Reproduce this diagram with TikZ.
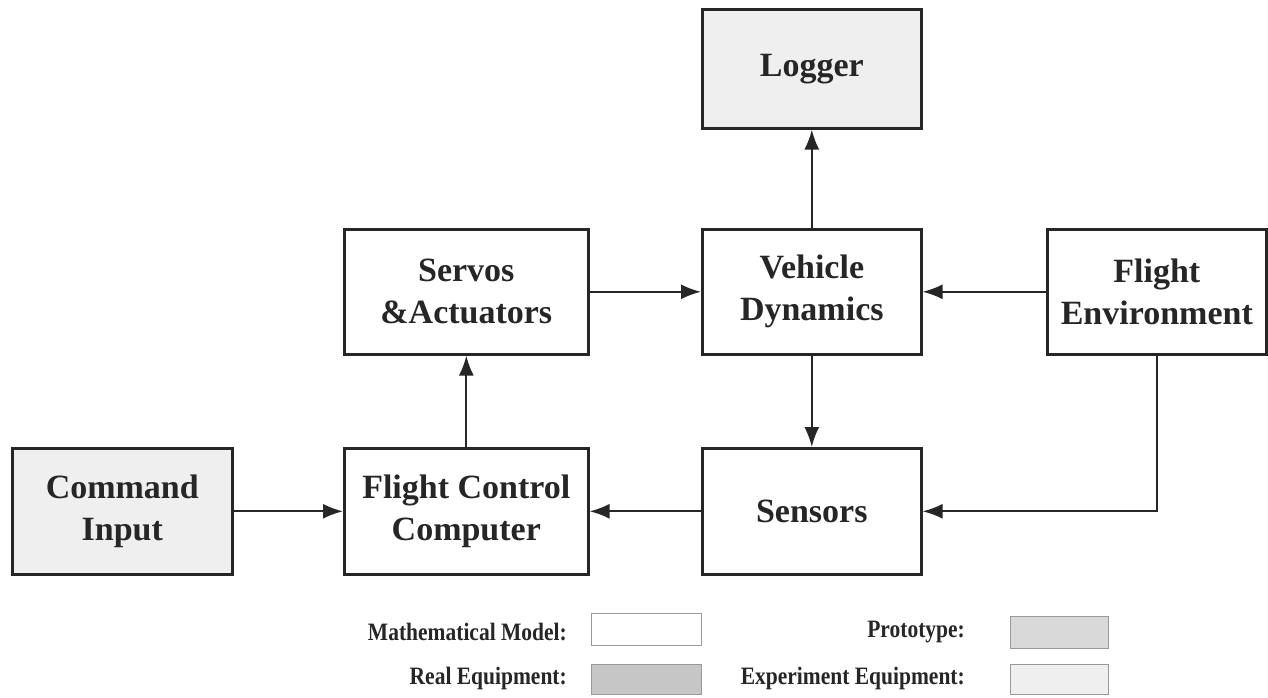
\documentclass[tikz,border=0pt]{standalone}
\usepackage{fontspec}
\setmainfont{Liberation Serif}
\usetikzlibrary{arrows.meta}
\definecolor{ink}{HTML}{262626}
\definecolor{expfill}{HTML}{EFEFEF}
\definecolor{protofill}{HTML}{D9D9D9}
\definecolor{realfill}{HTML}{C6C6C6}
\tikzset{
  blk/.style={draw=ink, line width=2.6pt, inner sep=0pt, anchor=north west, align=center,
    font=\fontsize{34}{42}\selectfont\bfseries, text=ink},
  conn/.style={draw=ink, line width=2pt, -{Latex[length=20pt,width=15pt]}},
  leg/.style={font=\fontsize{25}{28}\selectfont\bfseries, text=ink, anchor=east, inner sep=0pt},
  legbox/.style={draw=black!40, line width=1pt, anchor=north west, inner sep=0pt}
}
\newcommand{\cond}[1]{\scalebox{0.86}[1]{#1}}
\begin{document}
\begin{tikzpicture}[x=1pt,y=-1pt]
\useasboundingbox[fill=white] (0,0) rectangle (1268,697);
% blocks
\node[blk, fill=expfill, minimum width=219pt, minimum height=119pt] (log) at (701,8) {Logger};
\node[blk, minimum width=244pt, minimum height=125pt] (serv) at (343,228) {Servos\\\&Actuators};
\node[blk, minimum width=219pt, minimum height=125pt] (veh) at (701,228) {Vehicle\\Dynamics};
\node[blk, minimum width=219pt, minimum height=125pt] (env) at (1046,228) {Flight\\Environment};
\node[blk, fill=expfill, minimum width=220pt, minimum height=126pt] (cmd) at (11,447) {Command\\Input};
\node[blk, minimum width=244pt, minimum height=126pt] (fcc) at (343,447) {Flight Control\\Computer};
\node[blk, minimum width=219pt, minimum height=126pt] (sen) at (701,447) {Sensors};
% connectors
\draw[conn] (veh.north) -- (log.south);
\draw[conn] (serv.east) -- (veh.west);
\draw[conn] (env.west) -- (veh.east);
\draw[conn] (veh.south) -- (sen.north);
\coordinate (envb) at (1157,353);
\draw[conn] (envb) |- (sen.east);
\draw[conn] (sen.west) -- (fcc.east);
\draw[conn] (cmd.east) -- (fcc.west);
\draw[conn] (fcc.north) -- (serv.south);
% legend
\node[legbox, fill=white, minimum width=110pt, minimum height=32pt] (lm) at (591,613) {};
\node[legbox, fill=protofill, minimum width=98pt, minimum height=32pt] (lp) at (1010,616) {};
\node[legbox, fill=realfill, minimum width=110pt, minimum height=30pt] (lr) at (591,664) {};
\node[legbox, fill=expfill, minimum width=98pt, minimum height=30pt] (le) at (1010,664) {};
\node[leg] (tm) at (567,632) {\cond{Mathematical Model:}};
\node[leg] (tp) at (965,632) {\cond{Prototype:}};
\node[leg] (tr) at (567,678) {\cond{Real Equipment:}};
\node[leg] (te) at (965,678) {\cond{Experiment Equipment:}};
\end{tikzpicture}
\end{document}
